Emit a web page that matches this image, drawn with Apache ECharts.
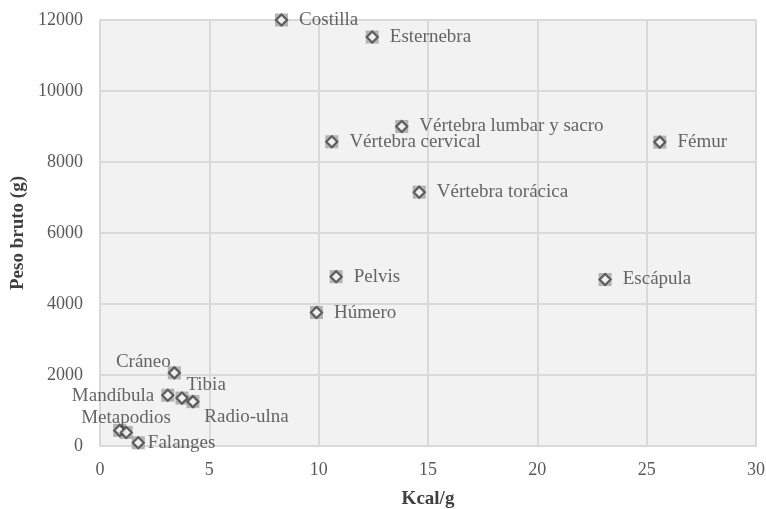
<!DOCTYPE html>
<html>
<head>
<meta charset="utf-8">
<script src="https://cdn.jsdelivr.net/npm/echarts@6/dist/echarts.min.js"></script>
<style>
  html, body { margin: 0; padding: 0; background: #fff; }
  #chart { width: 766px; height: 509px; }
</style>
</head>
<body>
<div id="chart"></div>
<script>
// datos
var huesos = ['Costilla', 'Esternebra', 'Vértebra lumbar y sacro', 'Vértebra cervical', 'Fémur',
  'Vértebra torácica', 'Pelvis', 'Escápula', 'Húmero', 'Cráneo', 'Mandíbula', 'Tibia',
  'Radio-ulna', 'Metapodios', '', 'Falanges'];
var kcal = [8.3, 12.45, 13.8, 10.6, 25.6, 14.6, 10.8, 23.1, 9.9, 3.4, 3.1, 3.75, 4.25, 0.9, 1.2, 1.75];
var peso = [12000, 11520, 9000, 8570, 8560, 7150, 4770, 4690, 3760, 2060, 1430, 1350, 1250, 440, 380, 90];
var xTicks = [0, 5, 10, 15, 20, 25, 30];
var yTicks = [0, 2000, 4000, 6000, 8000, 10000, 12000];

var fuente = "'Liberation Serif', 'Times New Roman', serif";

// etiquetas del grupo de abajo a la izquierda, colocadas a mano
var etiquetaPos = {
  'Cráneo': { position: [3, -4], align: 'right', verticalAlign: 'middle' },
  'Mandíbula': { position: [-7, 7], align: 'right', verticalAlign: 'middle' },
  'Tibia': { position: [11, -6], align: 'left', verticalAlign: 'middle' },
  'Radio-ulna': { position: [18, 22], align: 'left', verticalAlign: 'middle' },
  'Metapodios': { position: [13, -6], align: 'center', verticalAlign: 'middle' },
  'Falanges': { position: 'right', distance: 3 }
};

var puntos = kcal.map(function (k, i) {
  var p = { value: [k, peso[i]], name: huesos[i] };
  if (etiquetaPos[huesos[i]]) p.label = etiquetaPos[huesos[i]];
  return p;
});

var chart = echarts.init(document.getElementById('chart'));
chart.setOption({
  backgroundColor: '#fff',
  animation: false,
  grid: {
    left: 100, right: 10, top: 20, bottom: 63,
    outerBoundsMode: 'none',
    show: true, backgroundColor: '#f2f2f2', borderWidth: 0
  },
  xAxis: {
    type: 'value', min: xTicks[0], max: xTicks[xTicks.length - 1], interval: 5,
    name: 'Kcal/g', nameLocation: 'middle', nameGap: 44,
    nameTextStyle: { fontFamily: fuente, fontSize: 19, fontWeight: 'bold', color: '#404040' },
    axisLine: { show: true, lineStyle: { color: '#d9d9d9', width: 2 } },
    axisTick: { show: false },
    axisLabel: { fontFamily: fuente, fontSize: 18, color: '#595959', margin: 15 },
    splitLine: { show: true, lineStyle: { color: '#d9d9d9', width: 2 } }
  },
  yAxis: {
    type: 'value', min: yTicks[0], max: yTicks[yTicks.length - 1], interval: 2000,
    name: 'Peso bruto (g)', nameLocation: 'middle', nameGap: 71,
    nameTextStyle: { fontFamily: fuente, fontSize: 19, fontWeight: 'bold', color: '#404040' },
    axisLine: { show: true, lineStyle: { color: '#d9d9d9', width: 2 } },
    axisTick: { show: false },
    axisLabel: {
      fontFamily: fuente, fontSize: 18, color: '#595959', margin: 17,
      formatter: function (v) { return String(v); }
    },
    splitLine: { show: true, lineStyle: { color: '#d9d9d9', width: 2 } }
  },
  series: [
    {
      // sombra cuadrada detras del marcador
      type: 'scatter',
      symbol: 'rect', symbolSize: 13,
      itemStyle: { color: '#a3a3a3' },
      data: puntos.map(function (p) { return p.value; }),
      z: 2, silent: true
    },
    {
      type: 'scatter',
      symbol: 'diamond', symbolSize: 11,
      itemStyle: { color: '#ffffff', borderColor: '#404040', borderWidth: 2.2 },
      data: puntos,
      z: 3,
      label: {
        show: true, position: 'right', distance: 11,
        formatter: function (p) { return p.name; },
        fontFamily: fuente, fontSize: 19, color: '#404040'
      },
      labelLayout: { hideOverlap: false }
    }
  ]
});
</script>
</body>
</html>
